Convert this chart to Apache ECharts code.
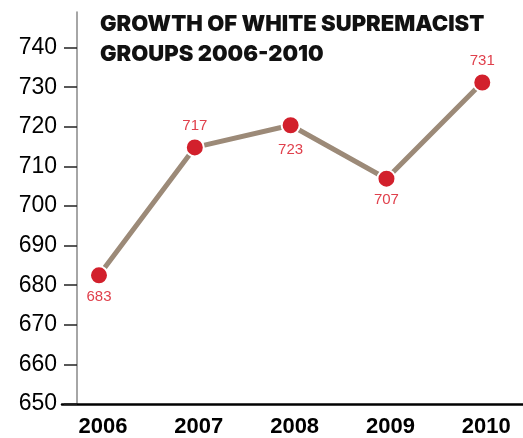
<!DOCTYPE html>
<html>
<head>
<meta charset="utf-8">
<script src="https://cdn.jsdelivr.net/npm/echarts@6/dist/echarts.min.js"></script>
<style>html,body{margin:0;padding:0;background:#fff}#c{width:523px;height:438px}</style>
</head>
<body>
<div id="c"></div>
<script>
const years = [2006, 2007, 2008, 2009, 2010];
const plotted = [682.5, 714.8, 720.4, 706.9, 731.2];
const labelText = ['683', '717', '723', '707', '731'];
const labelPos = ['bottom', 'top', 'bottom', 'bottom', 'top'];
const yTicks = [650, 660, 670, 680, 690, 700, 710, 720, 730, 740];
const title = 'GROWTH OF WHITE SUPREMACIST\nGROUPS 2006-2010';

const chart = echarts.init(document.getElementById('c'), null, {renderer: 'canvas'});
const data = years.map((y, i) => ({
  value: [y, plotted[i]],
  label: {position: labelPos[i], formatter: labelText[i], distance: i === 2 ? 7 : 4}
}));
chart.setOption({
  animation: false,
  backgroundColor: '#fff',
  title: {
    text: title, left: 100, top: 9, padding: 0,
    textStyle: {fontFamily: 'Inter', fontWeight: 900, fontSize: 22, lineHeight: 30, color: '#111'}
  },
  grid: {left: 62, right: 0, top: 12, bottom: 31},
  xAxis: {
    type: 'value', min: 2005.614, max: 2010.425,
    splitLine: {show: false},
    axisLine: {show: true, lineStyle: {color: '#000', width: 2.5}},
    axisTick: {show: false},
    axisLabel: {
      customValues: years, margin: 12, padding: [0, 0, 0, 8],
      formatter: v => String(Math.round(v)),
      fontFamily: 'Liberation Sans', fontWeight: 'bold', fontSize: 22, color: '#000'
    }
  },
  yAxis: {
    type: 'value', min: 650, max: 749, offset: -15,
    splitLine: {show: false},
    axisLine: {show: true, lineStyle: {color: '#888', width: 1.5}},
    axisTick: {show: true, customValues: yTicks, length: 13, lineStyle: {color: '#222', width: 1.5}},
    axisLabel: {
      customValues: yTicks, margin: 20,
      fontFamily: 'Liberation Sans', fontSize: 23, color: '#000'
    }
  },
  series: [{
    type: 'line', data: data,
    symbol: 'circle', symbolSize: 18,
    lineStyle: {color: '#9c8a78', width: 5},
    itemStyle: {color: '#d2202c', borderColor: '#fff', borderWidth: 2},
    label: {show: true, color: '#e0404c', fontFamily: 'Liberation Sans', fontSize: 15}
  }]
});
</script>
</body>
</html>
